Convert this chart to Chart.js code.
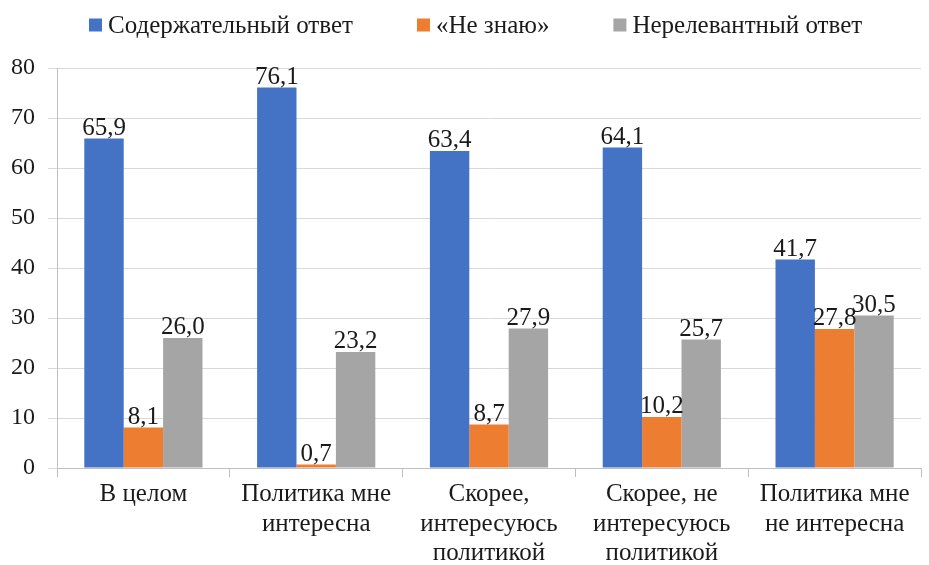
<!DOCTYPE html>
<html>
<head>
<meta charset="utf-8">
<script src="https://cdn.jsdelivr.net/npm/chart.js@4"></script>
<style>
  html, body { margin: 0; padding: 0; background: #fff; }
  #wrap { width: 929px; height: 565px; }
</style>
</head>
<body>
<div id="wrap"><canvas id="chart" width="929" height="565"></canvas></div>
<script>
const categories = [
  "В целом",
  ["Политика мне", "интересна"],
  ["Скорее,", "интересуюсь", "политикой"],
  ["Скорее, не", "интересуюсь", "политикой"],
  ["Политика мне", "не интересна"]
];
const seriesNames = ["Содержательный ответ", "«Не знаю»", "Нерелевантный ответ"];
const seriesColors = ["#4472c4", "#ed7d31", "#a5a5a5"];
const meaningful = [65.9, 76.1, 63.4, 64.1, 41.7];
const dontKnow = [8.1, 0.7, 8.7, 10.2, 27.8];
const irrelevant = [26.0, 23.2, 27.9, 25.7, 30.5];
const yTicks = [0, 10, 20, 30, 40, 50, 60, 70, 80];

const FONT = "'Liberation Serif', 'Times New Roman', serif";
const TEXT = "#1a1a1a";

// value labels above each bar
const valueLabels = {
  id: "valueLabels",
  afterDatasetsDraw(chart) {
    const ctx = chart.ctx;
    ctx.save();
    ctx.font = "25px " + FONT;
    ctx.fillStyle = TEXT;
    ctx.textAlign = "center";
    ctx.textBaseline = "alphabetic";
    chart.data.datasets.forEach((ds, i) => {
      chart.getDatasetMeta(i).data.forEach((bar, j) => {
        ctx.fillText(ds.data[j].toFixed(1).replace(".", ","), bar.x, bar.y - 4);
      });
    });
    ctx.restore();
  }
};

// legend row above the plot
const topLegend = {
  id: "topLegend",
  afterDraw(chart) {
    const ctx = chart.ctx;
    const box = 13, gap = 6, space = 64, y = 25;
    ctx.save();
    ctx.font = "25px " + FONT;
    ctx.textBaseline = "middle";
    ctx.textAlign = "left";
    let x = 89;
    chart.data.datasets.forEach(ds => {
      ctx.fillStyle = ds.backgroundColor;
      ctx.fillRect(x, y - box / 2, box, box);
      ctx.fillStyle = TEXT;
      ctx.fillText(ds.label, x + box + gap, y + 1);
      x += box + gap + ctx.measureText(ds.label).width + space;
    });
    ctx.restore();
  }
};

new Chart(document.getElementById("chart"), {
  type: "bar",
  data: {
    labels: categories,
    datasets: [
      { label: seriesNames[0], data: meaningful, backgroundColor: seriesColors[0] },
      { label: seriesNames[1], data: dontKnow, backgroundColor: seriesColors[1] },
      { label: seriesNames[2], data: irrelevant, backgroundColor: seriesColors[2] }
    ]
  },
  options: {
    responsive: false,
    animation: false,
    layout: { padding: { left: 0, right: 8, top: 68, bottom: 0 } },
    datasets: { bar: { categoryPercentage: 0.684, barPercentage: 1 } },
    plugins: {
      tooltip: { enabled: false },
      legend: { display: false }
    },
    scales: {
      x: {
        afterFit(scale) { scale.height = 97; },
        grid: {
          offset: true,
          drawOnChartArea: false,
          tickLength: 9,
          color: "#bfbfbf"
        },
        border: { color: "#bfbfbf" },
        ticks: {
          font: { family: FONT, size: 25, lineHeight: 1.18 },
          color: TEXT,
          padding: 3,
          maxRotation: 0,
          autoSkip: false
        }
      },
      y: {
        min: 0,
        max: 80,
        afterBuildTicks(scale) { scale.ticks = yTicks.map(v => ({ value: v })); },
        afterFit(scale) { scale.width = 57; },
        grid: { color: "#d9d9d9", tickLength: 9 },
        border: { color: "#bfbfbf" },
        ticks: {
          font: { family: FONT, size: 24 },
          color: TEXT,
          padding: 13
        }
      }
    }
  },
  plugins: [valueLabels, topLegend]
});
</script>
</body>
</html>
